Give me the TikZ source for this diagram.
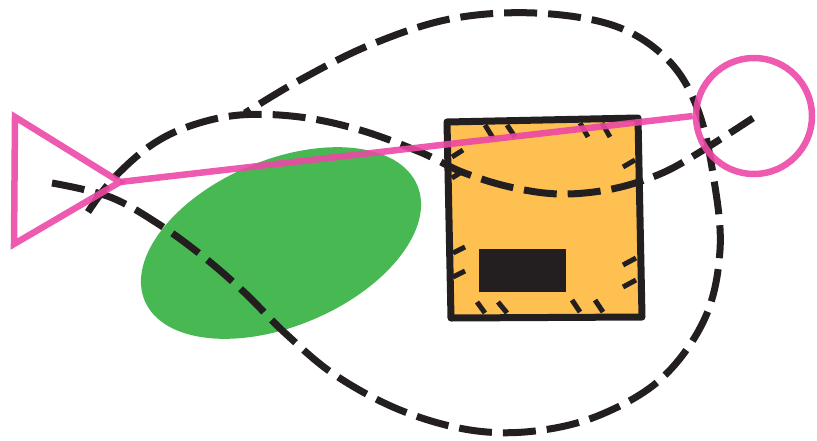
\documentclass[tikz,border=0pt]{standalone}
\usepackage{xcolor}
\usepackage{tikz}
\usetikzlibrary{calc}
\definecolor{ink}{HTML}{231F20}
\definecolor{leaf}{HTML}{48B853}
\definecolor{parcel}{HTML}{FEC151}
\definecolor{rose}{HTML}{EC48A6}

\begin{document}
\begin{tikzpicture}[
  x=1pt, y=-1pt,
  dashline/.style={draw=ink, line width=7pt, dash pattern=on 33pt off 11pt},
  edge/.style={draw=ink, line width=7pt, line join=round},
  hatch/.style={draw=ink, line width=5pt},
  pinkline/.style={draw=rose, line width=6.5pt, opacity=0.9}
]
\useasboundingbox (0,0) rectangle (817,440);
% green blob
\fill[leaf, rotate around={23:(281,243)}] (281,243) ellipse [x radius=148pt, y radius=83pt];
% parcel
\coordinate (tl) at (447,122);
\coordinate (tr) at (638,118);
\coordinate (br) at (642,317);
\coordinate (bl) at (451,318);
\filldraw[edge, fill=parcel] (tl) -- (tr) -- (br) -- (bl) -- cycle;
\fill[ink] (479,249) rectangle (566,292);
\foreach \x/\y/\dx/\dy in {485/125/8/13, 507/125/8/12, 580/123/8/14, 602/123/8/14,
  477/302/8/11, 498/302/9/11, 572/300/8/12, 595/300/8/12}
  \draw[hatch] (\x,\y) -- ++(\dx,\dy);
\foreach \x/\y/\dx/\dy in {452/157/11/-7, 452/178/11/-7, 453/253/12/-6, 453/277/12/-6,
  623/167/12/-7, 623/265/13/-7, 623/287/13/-7}
  \draw[hatch] (\x,\y) -- ++(\dx,\dy);
% dashed loops
\draw[dashline] plot[smooth, tension=0.6] coordinates {(52,183) (110,197) (160,225)
  (205,258) (245,293) (285,333) (335,375) (400,410) (470,430) (535,431) (600,415)
  (662,378) (705,318) (720,250) (714,180) (698,110) (668,60) (615,26) (535,13)
  (450,19) (370,45) (300,80) (245,113)};
\draw[dashline] plot[smooth, tension=0.6] coordinates {(88,212) (112,180) (150,146)
  (190,126) (240,115) (300,117) (360,130) (420,152) (462,172) (510,187) (560,194)
  (612,189) (660,174) (700,152) (753,118)};
% pink marks
\node[draw=rose, line width=6.5pt, opacity=0.9, circle, inner sep=0pt,
  minimum size=116pt] (ring) at (754,116) {};
\coordinate (tip) at (120,182);
\draw[pinkline, line join=miter] (tip) -- (15,117) -- (14,244) -- cycle;
\draw[pinkline] (tip) -- (ring.west);
\end{tikzpicture}
\end{document}
